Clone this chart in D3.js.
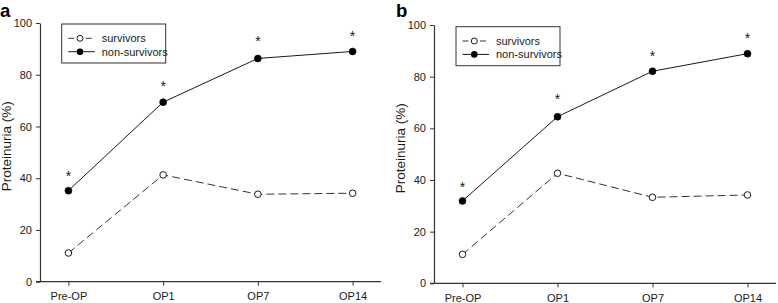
<!DOCTYPE html>
<html>
<head>
<meta charset="utf-8">
<script src="https://cdn.jsdelivr.net/npm/d3@7"></script>
<style>
  html, body { margin: 0; padding: 0; background: #fff; }
  svg { display: block; font-family: Arial, "Liberation Sans", sans-serif; }
</style>
</head>
<body>
<svg id="chart" width="778" height="303"></svg>
<script>
// ---- data ----
const categories = ["Pre-OP", "OP1", "OP7", "OP14"];
const yTicks = [0, 20, 40, 60, 80, 100];
const seriesNames = ["survivors", "non-survivors"];
const panelLabels = ["a", "b"];
const yTitle = "Proteinuria (%)";

const survivorsA = [11.1, 41.3, 33.8, 34.2];
const nonSurvivorsA = [35.2, 69.4, 86.3, 89.0];
const starsA = [42.0, 77.0, 94.2, 96.2];   // y position of the * marks (percent units)

const survivorsB = [11.2, 42.6, 33.3, 34.2];
const nonSurvivorsB = [31.9, 64.5, 82.1, 88.9];
const starsB = [38.3, 72.6, 89.0, 96.1];

// ---- layout ----
const panels = [
  { label: panelLabels[0], surv: survivorsA, non: nonSurvivorsA, stars: starsA,
    left: 40, right: 381, top: 23, bottom: 281.7, labelX: 0, titleX: 11, legX: 61.7, legY: 24 },
  { label: panelLabels[1], surv: survivorsB, non: nonSurvivorsB, stars: starsB,
    left: 434, right: 776, top: 25, bottom: 283.3, labelX: 396, titleX: 405, legX: 456, legY: 26.7 }
];

const svg = d3.select("#chart");
const ink = "#1a1a1a";
const axisInk = "#333";

panels.forEach(p => {
  const g = svg.append("g");
  const x = d3.scaleLinear().domain([-0.3, 3.3]).range([p.left, p.right]);
  const y = d3.scaleLinear().domain([0, 100]).range([p.bottom, p.top]);

  // y axis
  const yAxis = d3.axisLeft(y).tickValues(yTicks).tickSize(4).tickPadding(4).tickSizeOuter(0);
  const ya = g.append("g").attr("transform", `translate(${p.left},0)`).call(yAxis);
  ya.select(".domain").attr("stroke", axisInk).attr("stroke-width", 1.2);
  ya.selectAll(".tick line").attr("stroke", axisInk);
  ya.selectAll("text").attr("font-size", 11).attr("fill", ink)
    .attr("font-family", "Arial, 'Liberation Sans', sans-serif");

  // x axis
  const xAxis = d3.axisBottom(x).tickValues(d3.range(categories.length))
    .tickFormat(i => categories[i]).tickSize(4).tickPadding(7).tickSizeOuter(0);
  const xa = g.append("g").attr("transform", `translate(0,${p.bottom})`).call(xAxis);
  xa.select(".domain").attr("stroke", axisInk).attr("stroke-width", 1.2)
    .attr("d", `M${p.left - 4},0H${p.right}`);
  xa.selectAll(".tick line").attr("stroke", axisInk);
  xa.selectAll("text").attr("font-size", 11).attr("fill", ink)
    .attr("font-family", "Arial, 'Liberation Sans', sans-serif");

  // y title
  g.append("text")
    .attr("transform", `translate(${p.titleX},${(p.top + p.bottom) / 2 - 6}) rotate(-90)`)
    .attr("text-anchor", "middle")
    .attr("font-size", 13.5)
    .attr("fill", ink)
    .text(yTitle);

  // panel label
  g.append("text")
    .attr("x", p.labelX).attr("y", 17)
    .attr("font-size", 18.5).attr("font-weight", "bold").attr("fill", "#000")
    .text(p.label);

  const line = d3.line().x((d, i) => x(i)).y(d => y(d));

  // survivors (dashed, open circles)
  g.append("path").datum(p.surv).attr("d", line)
    .attr("fill", "none").attr("stroke", "#333").attr("stroke-width", 1)
    .attr("stroke-dasharray", "8,4");
  // non-survivors (solid, filled circles)
  g.append("path").datum(p.non).attr("d", line)
    .attr("fill", "none").attr("stroke", ink).attr("stroke-width", 1);

  g.selectAll(".surv").data(p.surv).enter().append("circle")
    .attr("cx", (d, i) => x(i)).attr("cy", d => y(d)).attr("r", 3.3)
    .attr("fill", "#fff").attr("stroke", ink).attr("stroke-width", 1);
  g.selectAll(".non").data(p.non).enter().append("circle")
    .attr("cx", (d, i) => x(i)).attr("cy", d => y(d)).attr("r", 3.5)
    .attr("fill", "#000").attr("stroke", "#000").attr("stroke-width", 0.5);

  // significance stars
  g.selectAll(".star").data(p.stars).enter().append("text")
    .attr("x", (d, i) => x(i)).attr("y", d => y(d) + 8)
    .attr("text-anchor", "middle").attr("font-size", 14).attr("fill", ink)
    .text("*");

  // legend
  const lg = g.append("g").attr("transform", `translate(${p.legX},${p.legY})`);
  lg.append("rect").attr("x", 0).attr("y", 0).attr("width", 104).attr("height", 39)
    .attr("fill", "#fff").attr("stroke", axisInk).attr("stroke-width", 1);
  // survivors row
  lg.append("line").attr("x1", 6.5).attr("x2", 12.5).attr("y1", 14.3).attr("y2", 14.3)
    .attr("stroke", "#333");
  lg.append("line").attr("x1", 24).attr("x2", 30).attr("y1", 14.3).attr("y2", 14.3)
    .attr("stroke", "#333");
  lg.append("circle").attr("cx", 18.3).attr("cy", 14.3).attr("r", 3)
    .attr("fill", "#fff").attr("stroke", ink);
  lg.append("text").attr("x", 40).attr("y", 18.2).attr("font-size", 11).attr("fill", ink)
    .text(seriesNames[0]);
  // non-survivors row
  lg.append("line").attr("x1", 6.5).attr("x2", 33).attr("y1", 27.7).attr("y2", 27.7)
    .attr("stroke", ink);
  lg.append("circle").attr("cx", 18.3).attr("cy", 27.7).attr("r", 3.3)
    .attr("fill", "#000");
  lg.append("text").attr("x", 40).attr("y", 31.7).attr("font-size", 11).attr("fill", ink)
    .text(seriesNames[1]);
});
</script>
</body>
</html>
